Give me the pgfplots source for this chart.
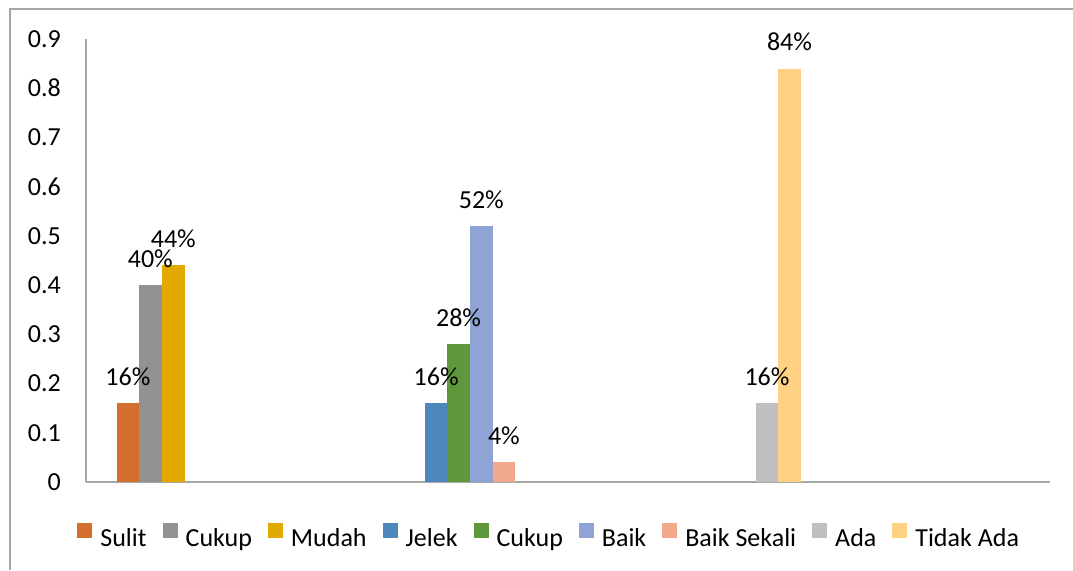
\documentclass[border=0pt]{standalone}
\usepackage{pgfplots}
\pgfplotsset{compat=1.18}
\usepackage{fontspec}
\setmainfont{Carlito}
\definecolor{cSulit}{HTML}{D46E2C}
\definecolor{cCukupA}{HTML}{929292}
\definecolor{cMudah}{HTML}{E2A900}
\definecolor{cJelek}{HTML}{4E87BC}
\definecolor{cCukupB}{HTML}{5F973C}
\definecolor{cBaik}{HTML}{8FA4D5}
\definecolor{cBaikS}{HTML}{F2A88A}
\definecolor{cAda}{HTML}{BFBFBF}
\definecolor{cTidak}{HTML}{FFD283}
\definecolor{lineGray}{HTML}{A6A6A6}
\pgfplotsset{sqlegend/.style={legend image code/.code={\fill[#1] (0pt,2pt) rectangle (15pt,17pt);}}}
\begin{document}
\fontsize{26}{31}\selectfont
\begin{tikzpicture}[x=1pt,y=1pt]
\useasboundingbox (0,0) rectangle (1073,570);
\draw[lineGray, line width=1.2pt] (10,0) -- (10,561) -- (1073,561);
\begin{axis}[
  at={(86pt,88pt)}, anchor=south west,
  scale only axis, width=964pt, height=443pt,
  xmin=86, xmax=1050, ymin=0, ymax=0.9,
  ytick={0,0.1,0.2,0.3,0.4,0.5,0.6,0.7,0.8,0.9},
  yticklabels={0,0.1,0.2,0.3,0.4,0.5,0.6,0.7,0.8,0.9},
  xtick=\empty,
  axis x line=bottom, axis y line=left,
  axis line style={-, draw=lineGray, line width=1.2pt},
  major tick length=0pt,
  yticklabel style={anchor=east, inner sep=0pt, xshift=-25pt},
  ybar, bar width=22.5pt, bar shift=0pt,
  nodes near coords, point meta=explicit symbolic,
  every node near coord/.append style={anchor=base, yshift=18pt, inner sep=0pt},
  legend columns=9,
  legend style={at={(0.481,-0.127)}, anchor=center, draw=none, fill=none,
    /tikz/every even column/.append style={column sep=13pt},
    /tikz/every odd column/.append style={column sep=5pt},
    nodes={inner sep=3pt}},
  sqlegend,
]
\addplot[fill=cSulit, draw=none] coordinates {(127.9,0.16) [16\%]};
\addplot[fill=cCukupA, draw=none] coordinates {(150.3,0.40) [40\%]};
\addplot[fill=cMudah, draw=none] coordinates {(173.3,0.44) [44\%]};
\addplot[fill=cJelek, draw=none] coordinates {(436.2,0.16) [16\%]};
\addplot[fill=cCukupB, draw=none] coordinates {(458.6,0.28) [28\%]};
\addplot[fill=cBaik, draw=none] coordinates {(481.3,0.52) [52\%]};
\addplot[fill=cBaikS, draw=none] coordinates {(503.9,0.04) [4\%]};
\addplot[fill=cAda, draw=none] coordinates {(767.0,0.16) [16\%]};
\addplot[fill=cTidak, draw=none] coordinates {(789.5,0.84) [84\%]};
\legend{Sulit,Cukup,Mudah,Jelek,Cukup,Baik,Baik Sekali,Ada,Tidak Ada}
\end{axis}
\end{tikzpicture}
\end{document}
